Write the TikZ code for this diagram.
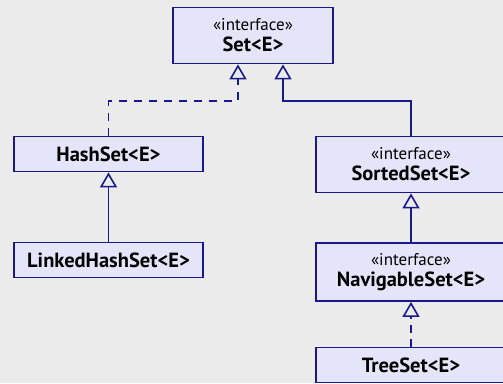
\documentclass[tikz,border=0pt]{standalone}
\usepackage{fontspec}
\setmainfont{PT Sans}
\usetikzlibrary{arrows.meta}
\definecolor{bgc}{RGB}{235,235,235}
\definecolor{boxfill}{RGB}{229,229,250}
\definecolor{navy}{RGB}{25,25,140}
\newcommand{\stereotype}{{\fontsize{17}{20}\selectfont\mdseries «interface»}}
\begin{document}
\begin{tikzpicture}[x=1pt,y=-1pt,
  box/.style={draw=navy, fill=boxfill, line width=1.8pt, inner sep=0pt,
    align=center, text=black, minimum width=189pt, minimum height=35pt,
    font=\fontsize{20.5}{22}\selectfont\bfseries},
  ibox/.style={box, minimum height=56pt},
  gen/.style={draw=navy, line width=1.6pt,
    -{Triangle[open, length=15pt, width=17pt, line width=1.6pt]}},
  real/.style={gen, dash pattern=on 8pt off 7pt}]
\fill[bgc] (0,0) rectangle (503,383);
\useasboundingbox (0,0) rectangle (503,383);
\node[ibox, minimum width=160pt] (set) at (253,35.5)
  {\stereotype\\[-1pt]Set<E>};
\node[box] (hash) at (108.5,154) {HashSet<E>};
\node[box] (linked) at (108.5,260) {LinkedHashSet<E>};
\node[ibox, minimum width=190pt] (sorted) at (411,164.5)
  {\stereotype\\[-1pt]SortedSet<E>};
\node[ibox, minimum width=190pt, minimum height=58pt] (nav) at (411,272)
  {\stereotype\\[-1pt]NavigableSet<E>};
\node[box, minimum width=190pt] (tree) at (411,365) {TreeSet<E>};
\coordinate (jl) at (238,101);
\coordinate (jr) at (283,101);
\draw[real] (hash.north) |- (jl) -- (jl |- set.south);
\draw[gen] (sorted.north) |- (jr) -- (jr |- set.south);
\draw[gen] (linked) -- (hash);
\draw[gen] (nav) -- (sorted);
\draw[real, dash pattern=on 8pt off 6pt] (tree) -- (nav);
\end{tikzpicture}
\end{document}
